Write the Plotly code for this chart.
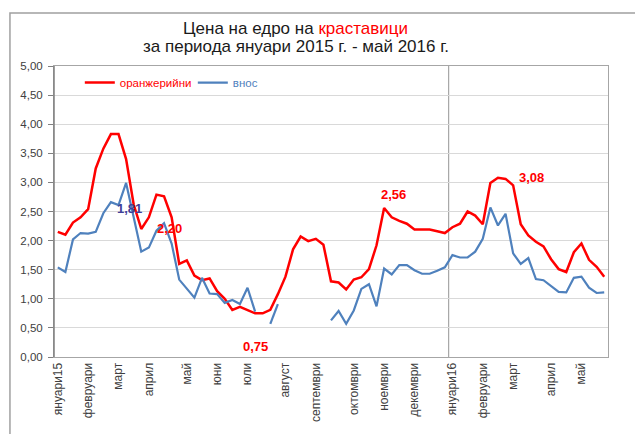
import plotly.graph_objects as go

# weekly observations, January 2015 - May 2016 (73 weeks)
week_index = list(range(73))

greenhouse = [2.15, 2.10, 2.31, 2.40, 2.54, 3.24, 3.58, 3.83, 3.83, 3.40,
              2.62, 2.20, 2.40, 2.79, 2.76, 2.40, 1.60, 1.66, 1.40, 1.32,
              1.35, 1.13, 1.00, 0.81, 0.86, 0.81, 0.75, 0.75, 0.81, 1.08,
              1.38, 1.85, 2.07, 1.99, 2.03, 1.93, 1.30, 1.28, 1.16, 1.33,
              1.37, 1.51, 1.92, 2.56, 2.40, 2.34, 2.29, 2.19, 2.19, 2.19,
              2.16, 2.13, 2.23, 2.29, 2.50, 2.43, 2.28, 2.99, 3.08, 3.06,
              2.95, 2.28, 2.09, 1.98, 1.90, 1.68, 1.51, 1.46, 1.80, 1.95,
              1.67, 1.55, 1.38]

imported = [1.54, 1.46, 2.02, 2.13, 2.12, 2.15, 2.47, 2.66, 2.61, 2.99,
            2.40, 1.81, 1.88, 2.17, 2.30, 1.95, 1.33, 1.17, 1.02, 1.36,
            1.09, 1.08, 0.93, 0.98, 0.91, 1.19, 0.78, None, 0.57, 0.91,
            None, None, None, None, None, None, 0.63, 0.79, 0.57, 0.80,
            1.17, 1.25, 0.87, 1.52, 1.42, 1.58, 1.58, 1.49, 1.43, 1.43,
            1.48, 1.54, 1.75, 1.71, 1.71, 1.81, 2.03, 2.57, 2.26, 2.46,
            1.78, 1.60, 1.70, 1.34, 1.32, 1.22, 1.12, 1.11, 1.36, 1.38,
            1.19, 1.10, 1.11]

month_tick_idx = [0, 4, 8, 12, 17, 21, 25, 30, 34, 39, 43, 47, 52, 56, 60, 65, 69]
month_labels = ["януари15", "февруари", "март", "април", "май", "юни", "юли",
                "август", "септември", "октомври", "ноември", "декември",
                "януари16", "февруари", "март", "април", "май"]

series_names = ["оранжерийни", "внос"]
title_line1 = "Цена на едро на <span style='color:#FF0000'>краставици</span>"
title_line2 = "за периода януари 2015 г. - май 2016 г."

RED = "#FF0000"
BLUE = "#4F81BD"
FONT = "Liberation Sans, Arial"

fig = go.Figure()
fig.add_trace(go.Scatter(x=week_index, y=greenhouse, mode="lines",
                         name="<span style='color:%s'>%s</span>" % (RED, series_names[0]),
                         line=dict(color=RED, width=2.5)))
fig.add_trace(go.Scatter(x=week_index, y=imported, mode="lines",
                         name="<span style='color:%s'>%s</span>" % (BLUE, series_names[1]),
                         line=dict(color=BLUE, width=2.2), connectgaps=False))

def fmt(v):
    return ("%.2f" % v).replace(".", ",")

# data labels (index, series, colour, xshift, yshift)
labels = [(11, imported, "#3F3F9A", -12, 43),
          (11, greenhouse, RED, 28, 0),
          (26, greenhouse, RED, 0, -33),
          (43, greenhouse, RED, 9, 14),
          (58, greenhouse, RED, 34, 0)]
annotations = []
for i, s, c, dx, dy in labels:
    annotations.append(dict(x=i, y=s[i], xref="x", yref="y", text="<b>%s</b>" % fmt(s[i]),
                            showarrow=False, xshift=dx, yshift=dy,
                            font=dict(family=FONT, size=13, color=c)))

annotations.append(dict(x=0.436, y=1.128, xref="paper", yref="paper", text=title_line1,
                        showarrow=False, xanchor="center", yanchor="middle",
                        font=dict(family=FONT, size=17, color="#1a1a1a")))
annotations.append(dict(x=0.436, y=1.067, xref="paper", yref="paper", text=title_line2,
                        showarrow=False, xanchor="center", yanchor="middle",
                        font=dict(family=FONT, size=17, color="#1a1a1a")))

fig.update_layout(
    width=635, height=426,
    margin=dict(l=45, r=35, t=58, b=71),
    paper_bgcolor="white", plot_bgcolor="white",
    separators=", ",
    font=dict(family=FONT, color="#404040"),
    showlegend=True,
    legend=dict(orientation="h", x=0.0466, y=0.943, xanchor="left", yanchor="middle",
                font=dict(size=11.5), bgcolor="rgba(0,0,0,0)",
                entrywidth=68, entrywidthmode="pixels", itemwidth=30),
    xaxis=dict(range=[-0.5, 72.5], tickmode="array", tickvals=month_tick_idx,
               ticktext=month_labels, tickangle=-90, tickfont=dict(size=12, color="#404040"),
               showgrid=False, zeroline=False, showline=True, linecolor="#A6A6A6",
               mirror=True, ticks=""),
    yaxis=dict(range=[0, 5], dtick=0.5, tickformat=".2f", tickfont=dict(size=11.5, color="#404040"),
               showgrid=True, gridcolor="#D9D9D9", gridwidth=1, zeroline=False,
               showline=True, linecolor="#A6A6A6", mirror=True,
               ticks="outside", ticklen=5, tickcolor="#808080", ticklabelstandoff=3),
    annotations=annotations,
    shapes=[
        dict(type="line", xref="x", yref="paper", x0=51.5, x1=51.5, y0=0, y1=1,
             line=dict(color="#A6A6A6", width=1.2), layer="below"),
        dict(type="line", xref="paper", yref="paper", x0=0, x1=0, y0=0, y1=1,
             line=dict(color="#7F7F7F", width=1.5)),
        dict(type="rect", xref="paper", yref="paper", x0=-0.0795, x1=1.2, y0=-0.35, y1=1.1818,
             line=dict(color="#A0A0A0", width=1.5)),
    ],
)

fig.write_html("out.html")
